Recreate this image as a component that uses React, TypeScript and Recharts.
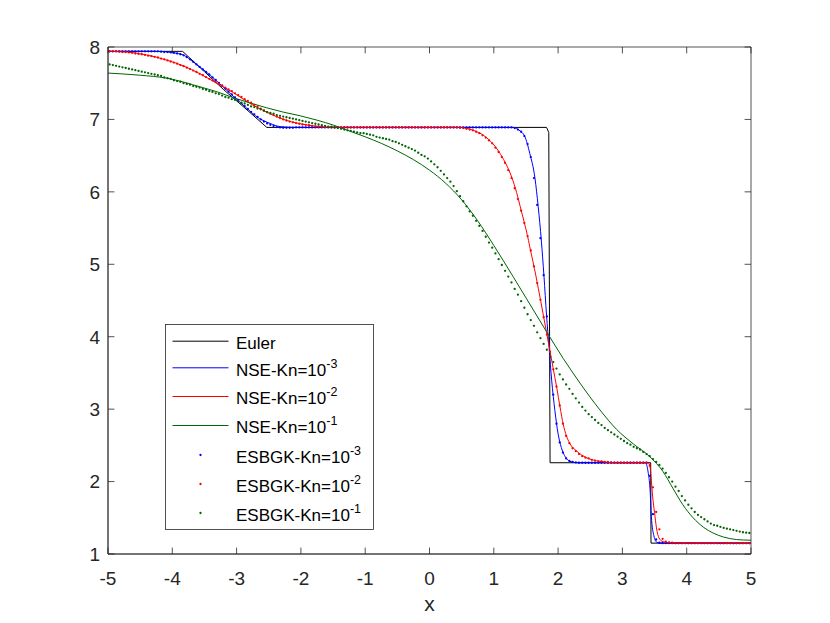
import { ComposedChart, Line, Scatter, XAxis, YAxis, ReferenceArea } from 'recharts';

// axis ticks
const xTicks = [-5, -4, -3, -2, -1, 0, 1, 2, 3, 4, 5];
const yTicks = [1, 2, 3, 4, 5, 6, 7, 8];

// cell centres of the ESBGK solutions
const dotX = [
    -4.975, -4.925, -4.875, -4.825, -4.775, -4.725, -4.675, -4.625, -4.575, -4.525,
    -4.475, -4.425, -4.375, -4.325, -4.275, -4.225, -4.175, -4.125, -4.075, -4.025,
    -3.975, -3.925, -3.875, -3.825, -3.775, -3.725, -3.675, -3.625, -3.575, -3.525,
    -3.475, -3.425, -3.375, -3.325, -3.275, -3.225, -3.175, -3.125, -3.075, -3.025,
    -2.975, -2.925, -2.875, -2.825, -2.775, -2.725, -2.675, -2.625, -2.575, -2.525,
    -2.475, -2.425, -2.375, -2.325, -2.275, -2.225, -2.175, -2.125, -2.075, -2.025,
    -1.975, -1.925, -1.875, -1.825, -1.775, -1.725, -1.675, -1.625, -1.575, -1.525,
    -1.475, -1.425, -1.375, -1.325, -1.275, -1.225, -1.175, -1.125, -1.075, -1.025,
    -0.975, -0.925, -0.875, -0.825, -0.775, -0.725, -0.675, -0.625, -0.575, -0.525,
    -0.475, -0.425, -0.375, -0.325, -0.275, -0.225, -0.175, -0.125, -0.075, -0.025,
    0.025, 0.075, 0.125, 0.175, 0.225, 0.275, 0.325, 0.375, 0.425, 0.475,
    0.525, 0.575, 0.625, 0.675, 0.725, 0.775, 0.825, 0.875, 0.925, 0.975,
    1.025, 1.075, 1.125, 1.175, 1.225, 1.275, 1.325, 1.375, 1.425, 1.475,
    1.525, 1.575, 1.625, 1.675, 1.725, 1.775, 1.825, 1.875, 1.925, 1.975,
    2.025, 2.075, 2.125, 2.175, 2.225, 2.275, 2.325, 2.375, 2.425, 2.475,
    2.525, 2.575, 2.625, 2.675, 2.725, 2.775, 2.825, 2.875, 2.925, 2.975,
    3.025, 3.075, 3.125, 3.175, 3.225, 3.275, 3.325, 3.375, 3.425, 3.475,
    3.525, 3.575, 3.625, 3.675, 3.725, 3.775, 3.825, 3.875, 3.925, 3.975,
    4.025, 4.075, 4.125, 4.175, 4.225, 4.275, 4.325, 4.375, 4.425, 4.475,
    4.525, 4.575, 4.625, 4.675, 4.725, 4.775, 4.825, 4.875, 4.925, 4.975,
];

const esbgk3 = [
    7.94, 7.94, 7.94, 7.94, 7.94, 7.94, 7.94, 7.94, 7.94, 7.94,
    7.94, 7.94, 7.94, 7.94, 7.94, 7.94, 7.935, 7.93, 7.93, 7.925,
    7.92, 7.91, 7.90, 7.885, 7.86, 7.83, 7.795, 7.76, 7.725, 7.69,
    7.655, 7.62, 7.58, 7.545, 7.505, 7.465, 7.425, 7.385, 7.345, 7.305,
    7.265, 7.225, 7.185, 7.145, 7.105, 7.07, 7.035, 7.00, 6.97, 6.945,
    6.925, 6.91, 6.895, 6.89, 6.885, 6.885, 6.885, 6.885, 6.89, 6.89,
    6.89, 6.89, 6.89, 6.89, 6.89, 6.89, 6.89, 6.89, 6.89, 6.89,
    6.89, 6.89, 6.89, 6.89, 6.89, 6.89, 6.89, 6.89, 6.89, 6.89,
    6.89, 6.89, 6.89, 6.89, 6.89, 6.89, 6.89, 6.89, 6.89, 6.89,
    6.89, 6.89, 6.89, 6.89, 6.89, 6.89, 6.89, 6.89, 6.89, 6.89,
    6.89, 6.89, 6.89, 6.89, 6.89, 6.89, 6.89, 6.89, 6.89, 6.89,
    6.89, 6.89, 6.89, 6.89, 6.89, 6.89, 6.89, 6.89, 6.89, 6.89,
    6.89, 6.89, 6.89, 6.89, 6.89, 6.89, 6.88, 6.86, 6.83, 6.77,
    6.66, 6.48, 6.19, 5.82, 5.36, 4.85, 4.28, 3.72, 3.20, 2.80,
    2.54, 2.40, 2.32, 2.285, 2.27, 2.265, 2.26, 2.26, 2.26, 2.26,
    2.26, 2.26, 2.26, 2.26, 2.26, 2.26, 2.26, 2.26, 2.26, 2.26,
    2.26, 2.26, 2.26, 2.26, 2.26, 2.26, 2.26, 2.26, 2.08, 1.55,
    1.20, 1.155, 1.15, 1.15, 1.15, 1.15, 1.15, 1.15, 1.15, 1.15,
    1.15, 1.15, 1.15, 1.15, 1.15, 1.15, 1.15, 1.15, 1.15, 1.15,
    1.15, 1.15, 1.15, 1.15, 1.15, 1.15, 1.15, 1.15, 1.15, 1.15,
];

const esbgk2 = [
    7.94, 7.94, 7.94, 7.935, 7.93, 7.93, 7.925, 7.92, 7.91, 7.905,
    7.90, 7.89, 7.88, 7.875, 7.865, 7.855, 7.84, 7.83, 7.815, 7.80,
    7.785, 7.77, 7.75, 7.735, 7.715, 7.695, 7.675, 7.655, 7.63, 7.61,
    7.585, 7.56, 7.54, 7.515, 7.49, 7.465, 7.44, 7.415, 7.39, 7.36,
    7.335, 7.31, 7.28, 7.255, 7.23, 7.20, 7.175, 7.15, 7.125, 7.10,
    7.08, 7.06, 7.04, 7.02, 7.00, 6.985, 6.97, 6.96, 6.95, 6.94,
    6.93, 6.925, 6.92, 6.91, 6.905, 6.90, 6.90, 6.895, 6.895, 6.89,
    6.89, 6.89, 6.89, 6.89, 6.89, 6.89, 6.89, 6.89, 6.89, 6.89,
    6.89, 6.89, 6.89, 6.89, 6.89, 6.89, 6.89, 6.89, 6.89, 6.89,
    6.89, 6.89, 6.89, 6.89, 6.89, 6.89, 6.89, 6.89, 6.89, 6.89,
    6.89, 6.89, 6.89, 6.89, 6.89, 6.89, 6.89, 6.89, 6.89, 6.885,
    6.88, 6.87, 6.86, 6.85, 6.83, 6.81, 6.78, 6.75, 6.71, 6.67,
    6.61, 6.55, 6.48, 6.40, 6.30, 6.19, 6.05, 5.90, 5.74, 5.57,
    5.39, 5.19, 4.97, 4.74, 4.51, 4.27, 4.03, 3.79, 3.55, 3.31,
    3.05, 2.80, 2.63, 2.53, 2.46, 2.42, 2.38, 2.35, 2.33, 2.32,
    2.30, 2.29, 2.28, 2.28, 2.27, 2.27, 2.265, 2.26, 2.26, 2.26,
    2.26, 2.26, 2.26, 2.26, 2.26, 2.26, 2.26, 2.26, 2.22, 1.92,
    1.58, 1.34, 1.21, 1.17, 1.16, 1.155, 1.15, 1.15, 1.15, 1.15,
    1.15, 1.15, 1.15, 1.15, 1.15, 1.15, 1.15, 1.15, 1.15, 1.15,
    1.15, 1.15, 1.15, 1.15, 1.15, 1.15, 1.15, 1.15, 1.15, 1.15,
];

const esbgk1 = [
    7.76, 7.75, 7.74, 7.73, 7.72, 7.71, 7.70, 7.69, 7.68, 7.67,
    7.66, 7.65, 7.64, 7.63, 7.62, 7.61, 7.60, 7.58, 7.57, 7.56,
    7.54, 7.53, 7.52, 7.50, 7.49, 7.48, 7.46, 7.45, 7.44, 7.42,
    7.41, 7.39, 7.38, 7.36, 7.35, 7.33, 7.31, 7.30, 7.28, 7.27,
    7.25, 7.23, 7.22, 7.20, 7.18, 7.17, 7.15, 7.14, 7.12, 7.10,
    7.09, 7.08, 7.06, 7.05, 7.04, 7.03, 7.02, 7.01, 7.00, 6.99,
    6.98, 6.97, 6.96, 6.95, 6.94, 6.93, 6.92, 6.91, 6.90, 6.90,
    6.89, 6.88, 6.87, 6.86, 6.85, 6.84, 6.83, 6.82, 6.81, 6.81,
    6.80, 6.79, 6.78, 6.76, 6.75, 6.74, 6.73, 6.72, 6.70, 6.69,
    6.67, 6.65, 6.63, 6.61, 6.59, 6.57, 6.54, 6.51, 6.49, 6.46,
    6.42, 6.38, 6.34, 6.29, 6.24, 6.19, 6.14, 6.08, 6.01, 5.94,
    5.87, 5.80, 5.73, 5.67, 5.60, 5.53, 5.46, 5.38, 5.30, 5.23,
    5.15, 5.07, 4.99, 4.91, 4.83, 4.75, 4.66, 4.58, 4.49, 4.40,
    4.31, 4.23, 4.15, 4.06, 3.98, 3.90, 3.82, 3.73, 3.65, 3.56,
    3.48, 3.41, 3.34, 3.28, 3.21, 3.15, 3.09, 3.03, 2.98, 2.93,
    2.89, 2.85, 2.81, 2.78, 2.74, 2.71, 2.68, 2.65, 2.62, 2.59,
    2.56, 2.53, 2.51, 2.48, 2.46, 2.44, 2.41, 2.38, 2.35, 2.31,
    2.27, 2.23, 2.18, 2.12, 2.06, 2.00, 1.93, 1.87, 1.80, 1.74,
    1.68, 1.63, 1.58, 1.54, 1.51, 1.48, 1.45, 1.42, 1.40, 1.39,
    1.375, 1.36, 1.35, 1.34, 1.33, 1.32, 1.31, 1.30, 1.295, 1.29,
];

// exact Euler solution
const eulerX = [-5, -3.84, -3.5, -3.2, -2.9, -2.53, 1.82, 1.855, 1.875, 3.44, 3.445, 5];
const eulerY = [7.94, 7.94, 7.66, 7.41, 7.18, 6.89, 6.89, 6.82, 2.26, 2.26, 1.15, 1.15];

// Navier-Stokes, Kn = 1e-3
const nse3X = [
    -5, -4.3, -4.1, -3.98, -3.83, -3.67, -3.41, -3.15, -2.9, -2.64,
    -2.48, -2.32, -2.11, 1.3, 1.41, 1.48, 1.56, 1.64, 1.69, 1.74,
    1.78, 1.82, 1.86, 1.9, 1.95, 2.0, 2.05, 2.1, 2.15, 2.22,
    2.3, 3.36, 3.4, 3.43, 3.45, 3.49, 3.53, 3.58, 5,
];
const nse3Y = [
    7.94, 7.94, 7.935, 7.92, 7.89, 7.79, 7.61, 7.40, 7.20, 7.01,
    6.945, 6.9, 6.89, 6.89, 6.84, 6.77, 6.53, 6.19, 5.80, 5.32,
    4.84, 4.30, 3.85, 3.40, 2.98, 2.66, 2.47, 2.36, 2.30, 2.27,
    2.26, 2.26, 2.13, 1.89, 1.52, 1.25, 1.165, 1.15, 1.15,
];

// Navier-Stokes, Kn = 1e-2
const nse2X = [
    -5, -4.7, -4.4, -4.09, -3.83, -3.57, -3.31, -3.05, -2.79, -2.53,
    -2.27, -2.01, -1.75, -1.5, 0.45, 0.68, 0.84, 0.99, 1.15, 1.28,
    1.355, 1.41, 1.47, 1.52, 1.56, 1.655, 1.73, 1.82, 1.87, 1.92,
    1.98, 2.03, 2.08, 2.13, 2.18, 2.29, 2.44, 2.65, 2.9, 3.4,
    3.43, 3.45, 3.47, 3.5, 3.53, 3.57, 3.63, 3.74, 5,
];
const nse2Y = [
    7.94, 7.93, 7.89, 7.82, 7.74, 7.63, 7.50, 7.37, 7.22, 7.10,
    7.00, 6.94, 6.905, 6.89, 6.89, 6.85, 6.78, 6.66, 6.45, 6.20,
    5.99, 5.80, 5.59, 5.41, 5.24, 4.84, 4.49, 4.06, 3.82, 3.58,
    3.29, 3.03, 2.79, 2.63, 2.53, 2.42, 2.33, 2.28, 2.26, 2.26,
    2.20, 2.02, 1.80, 1.57, 1.36, 1.22, 1.17, 1.155, 1.15,
];

// Navier-Stokes, Kn = 1e-1
const nse1X = [
    -5, -4.5, -4.09, -3.8, -3.57, -3.3, -3.05, -2.8, -2.53, -2.27,
    -2.01, -1.75, -1.49, -1.23, -1.0, -0.75, -0.5, -0.25, 0.0, 0.25,
    0.5, 0.75, 1.0, 1.3, 1.56, 1.82, 2.08, 2.34, 2.65, 2.91,
    3.17, 3.43, 3.63, 3.79, 3.94, 4.1, 4.26, 4.41, 4.57, 4.77, 5,
];
const nse1Y = [
    7.64, 7.61, 7.57, 7.51, 7.45, 7.38, 7.30, 7.23, 7.16, 7.10,
    7.05, 6.99, 6.92, 6.835, 6.76, 6.67, 6.565, 6.445, 6.30, 6.12,
    5.89, 5.60, 5.26, 4.83, 4.45, 4.07, 3.70, 3.36, 2.99, 2.72,
    2.52, 2.34, 2.14, 1.90, 1.68, 1.50, 1.37, 1.29, 1.235, 1.20, 1.19,
];

const BLUE = '#0000ff';
const RED = '#ff0000';
const GREEN = '#006400';
const AXIS = '#262626';
const TEXT = '#262626';
const FONT = '"Liberation Sans", Arial, Helvetica, sans-serif';

// plot box in page pixels
const PLOT = { left: 108, right: 751, top: 47, bottom: 554 };
const TICK_LEN = 6.4;

const toPoints = (xs: number[], ys: number[]) => xs.map((x, i) => ({ x, y: ys[i] }));

const makeDot = (color: string) => (props: any) => (
    <circle cx={props.cx} cy={props.cy} r={1.15} fill={color} />
);

const XTick = ({ x, payload }: any) => (
    <g>
        <line x1={x} x2={x} y1={PLOT.bottom} y2={PLOT.bottom - TICK_LEN} stroke={AXIS} strokeWidth={0.8} />
        <line x1={x} x2={x} y1={PLOT.top} y2={PLOT.top + TICK_LEN} stroke={AXIS} strokeWidth={0.8} />
        <text x={x} y={585} textAnchor="middle" fill={TEXT} fontSize={19} fontFamily={FONT}>
            {payload.value}
        </text>
    </g>
);

const YTick = ({ y, payload }: any) => (
    <g>
        <line x1={PLOT.left} x2={PLOT.left + TICK_LEN} y1={y} y2={y} stroke={AXIS} strokeWidth={0.8} />
        <line x1={PLOT.right} x2={PLOT.right - TICK_LEN} y1={y} y2={y} stroke={AXIS} strokeWidth={0.8} />
        <text x={100} y={y + 6.8} textAnchor="end" fill={TEXT} fontSize={19} fontFamily={FONT}>
            {payload.value}
        </text>
    </g>
);

type Entry = { label: string; sup?: string; color: string; kind: 'line' | 'dot'; lineY: number };

const legendEntries: Entry[] = [
    { label: 'Euler', color: '#000000', kind: 'line', lineY: 16.7 },
    { label: 'NSE-Kn=10', sup: '-3', color: BLUE, kind: 'line', lineY: 43.3 },
    { label: 'NSE-Kn=10', sup: '-2', color: RED, kind: 'line', lineY: 72 },
    { label: 'NSE-Kn=10', sup: '-1', color: GREEN, kind: 'line', lineY: 101 },
    { label: 'ESBGK-Kn=10', sup: '-3', color: BLUE, kind: 'dot', lineY: 130.5 },
    { label: 'ESBGK-Kn=10', sup: '-2', color: RED, kind: 'dot', lineY: 159.5 },
    { label: 'ESBGK-Kn=10', sup: '-1', color: GREEN, kind: 'dot', lineY: 188.5 },
];

const LegendBox = () => (
    <g transform="translate(165.5, 324.5)">
        <rect x={0} y={0} width={208} height={205} fill="#ffffff" stroke={AXIS} strokeWidth={0.8} />
        {legendEntries.map((e, i) => (
            <g key={i}>
                {e.kind === 'line' ? (
                    <line x1={7} x2={63} y1={e.lineY} y2={e.lineY} stroke={e.color} strokeWidth={1} />
                ) : (
                    <circle cx={35} cy={e.lineY} r={1.15} fill={e.color} />
                )}
                <text x={70.5} y={e.lineY + 7.8} fontSize={17} fill="#000000" fontFamily={FONT}>
                    {e.label}
                    {e.sup && (
                        <tspan dy={-8} fontSize={12.5}>
                            {e.sup}
                        </tspan>
                    )}
                </text>
            </g>
        ))}
    </g>
);

const App = () => {
    return (
        <div style={{ position: 'absolute', left: 0, top: 0, width: 830, height: 623, background: '#ffffff' }}>
            <ComposedChart width={830} height={623} margin={{ top: 47, right: 79, bottom: 39, left: 68 }}>
                <XAxis
                    dataKey="x"
                    type="number"
                    domain={[-5, 5]}
                    ticks={xTicks}
                    interval={0}
                    tick={XTick}
                    tickLine={false}
                    axisLine={{ stroke: AXIS, strokeWidth: 0.8 }}
                    height={30}
                />
                <YAxis
                    type="number"
                    domain={[1, 8]}
                    ticks={yTicks}
                    interval={0}
                    tick={YTick}
                    tickLine={false}
                    axisLine={{ stroke: AXIS, strokeWidth: 0.8 }}
                    width={40}
                />
                <ReferenceArea x1={-5} x2={5} y1={1} y2={8} fill="none" stroke={AXIS} strokeWidth={0.8} />
                <Line data={toPoints(eulerX, eulerY)} dataKey="y" type="linear" stroke="#000000" strokeWidth={1} dot={false} activeDot={false} isAnimationActive={false} />
                <Line data={toPoints(nse3X, nse3Y)} dataKey="y" type="monotone" stroke={BLUE} strokeWidth={1} dot={false} activeDot={false} isAnimationActive={false} />
                <Line data={toPoints(nse2X, nse2Y)} dataKey="y" type="monotone" stroke={RED} strokeWidth={1} dot={false} activeDot={false} isAnimationActive={false} />
                <Line data={toPoints(nse1X, nse1Y)} dataKey="y" type="monotone" stroke={GREEN} strokeWidth={1} dot={false} activeDot={false} isAnimationActive={false} />
                <Scatter data={toPoints(dotX, esbgk3)} dataKey="y" fill={BLUE} shape={makeDot(BLUE)} isAnimationActive={false} />
                <Scatter data={toPoints(dotX, esbgk2)} dataKey="y" fill={RED} shape={makeDot(RED)} isAnimationActive={false} />
                <Scatter data={toPoints(dotX, esbgk1)} dataKey="y" fill={GREEN} shape={makeDot(GREEN)} isAnimationActive={false} />
            </ComposedChart>
            <svg width={830} height={623} style={{ position: 'absolute', left: 0, top: 0, pointerEvents: 'none' }}>
                <text x={429.5} y={611} textAnchor="middle" fontSize={21} fill={TEXT} fontFamily={FONT}>
                    x
                </text>
                <LegendBox />
            </svg>
        </div>
    );
};

export default App;
